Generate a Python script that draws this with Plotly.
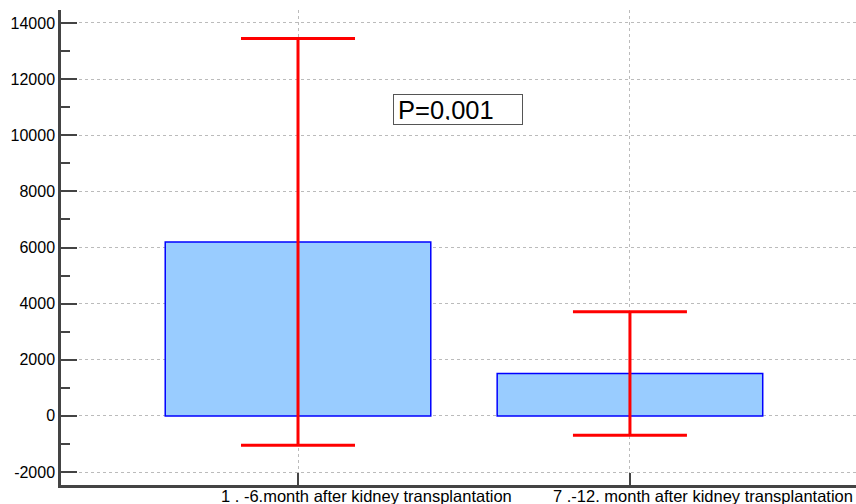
import plotly.graph_objects as go

categories = ["1 . -6.month after kidney transplantation", "7 .-12. month after kidney transplantation"]
means = [6200, 1510]
sds = [7250, 2200]
y_ticks = [-2000, 0, 2000, 4000, 6000, 8000, 10000, 12000, 14000]
y_tick_labels = ["-2000", "0", "2000", "4000", "6000", "8000", "10000", "12000", "14000"]
p_text = "P=0,001"

xpos = list(range(len(categories)))
FONT = "Liberation Sans, Arial, sans-serif"

fig = go.Figure()
fig.add_trace(go.Bar(
    x=xpos, y=means, width=0.8,
    marker=dict(color="#99CCFF", line=dict(color="#0000FF", width=1.5)),
    error_y=dict(type="data", array=sds, visible=True, color="#FF0000", thickness=3, width=57),
    showlegend=False,
))

for i, c in enumerate(categories):
    fig.add_annotation(x=xpos[i], xref="x", y=0, yref="paper", text=c, showarrow=False,
                       xanchor="left", yanchor="top", xshift=-79, yshift=0,
                       font=dict(family=FONT, size=16.5, color="#000000"))

fig.add_annotation(x=0.482, xref="x", y=10900, yref="y", text=p_text, showarrow=False,
                   xanchor="center", yanchor="middle", align="left", width=120, height=21,
                   borderpad=4, bordercolor="#555555", borderwidth=1, bgcolor="#FFFFFF",
                   font=dict(family=FONT, size=25.5, color="#000000"))

fig.update_layout(
    width=856, height=504,
    margin=dict(l=61, r=0, t=10, b=19),
    plot_bgcolor="#FFFFFF", paper_bgcolor="#FFFFFF",
    font=dict(family=FONT, size=16, color="#000000"),
    bargap=0.2,
)
fig.update_xaxes(
    range=[-0.714, 1.681], tickvals=xpos, ticktext=["", ""],
    ticks="inside", ticklen=12, tickwidth=2, tickcolor="#444444",
    showline=True, linecolor="#444444", linewidth=2.5,
    showgrid=True, gridcolor="#BBBBBB", griddash="dot", gridwidth=1,
    zeroline=False, fixedrange=True,
)
fig.update_yaxes(
    range=[-2463, 14463], tickmode="array", tickvals=y_ticks, ticktext=y_tick_labels,
    ticks="inside", ticklen=16, tickwidth=2, tickcolor="#444444",
    minor=dict(dtick=1000, ticks="inside", ticklen=9, tickwidth=2, tickcolor="#444444", showgrid=False),
    showline=True, linecolor="#444444", linewidth=2.5,
    showgrid=True, gridcolor="#BBBBBB", griddash="dot", gridwidth=1,
    zeroline=False, tickfont=dict(family=FONT, size=16, color="#000000"), fixedrange=True,
    automargin=False,
)

fig.write_html("out.html")
